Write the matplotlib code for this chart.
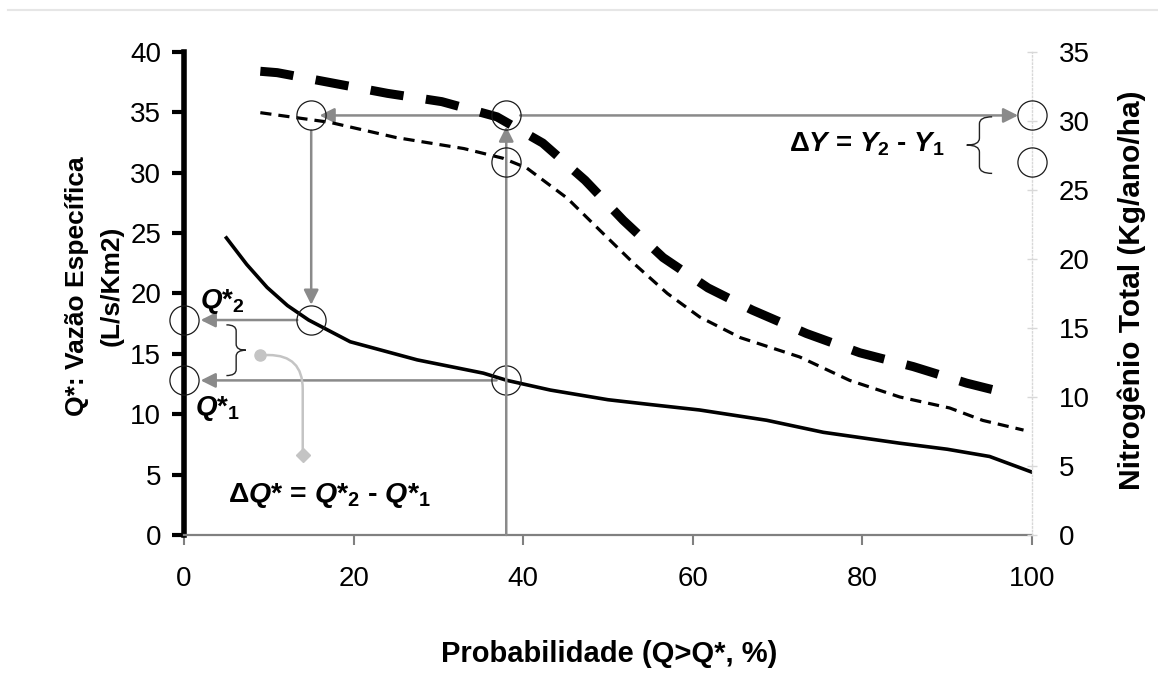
import matplotlib
matplotlib.use("Agg")
import matplotlib.pyplot as plt
from matplotlib.path import Path
from matplotlib.patches import PathPatch
from matplotlib.lines import Line2D

plt.rcParams["font.family"] = ["Liberation Sans", "DejaVu Sans"]
plt.rcParams["mathtext.fontset"] = "custom"
plt.rcParams["mathtext.rm"] = "Liberation Sans:bold"
plt.rcParams["mathtext.it"] = "Liberation Sans:italic:bold"
plt.rcParams["mathtext.bf"] = "Liberation Sans:bold"

# ---------------------------------------------
# Daten
# ---------------------------------------------
# Vazao especifica Q* (eixo esquerdo)
prob_q = [5, 7.4, 9.8, 12.2, 14.7, 19.6, 27.5, 35.3, 38.1, 43.2, 50, 55,
          60.8, 68.7, 75.4, 84.4, 90, 95, 100]
vazao_q = [24.6, 22.4, 20.5, 19.0, 17.8, 16.0, 14.5, 13.4, 12.8, 12.0, 11.2, 10.8,
           10.35, 9.5, 8.5, 7.6, 7.1, 6.5, 5.2]

# Nitrogenio total, cenario 2 (tracejado grosso, eixo direito)
prob_n2 = [9, 11, 17.5, 24, 30.4, 36.9, 42.3, 47.3, 51.8, 56.5, 61.8, 67,
           73.4, 79.7, 86, 92.3, 97.5]
nitro_n2 = [33.6, 33.5, 32.75, 32.0, 31.4, 30.3, 28.4, 25.7, 22.8, 20.1, 17.9, 16.3,
            14.6, 13.2, 12.2, 11.0, 10.2]

# Nitrogenio total, cenario 1 (tracejado fino, eixo direito)
prob_n1 = [9, 17.2, 25, 33, 37.6, 40.4, 45.2, 49, 53, 57, 60.8, 65.6,
           72.6, 78.5, 84.4, 90.3, 94.2, 99]
nitro_n1 = [30.6, 29.9, 28.8, 28.0, 27.3, 26.6, 24.4, 22.1, 19.7, 17.5, 15.8, 14.3,
            12.9, 11.2, 10.0, 9.2, 8.3, 7.6]

# pontos da leitura grafica
p1, p2 = 38, 15          # probabilidades
q1, q2 = 12.8, 17.8      # Q*1, Q*2
y1, y2 = 27.0, 30.4      # Y1, Y2

x_ticks = [0, 20, 40, 60, 80, 100]
yl_ticks = [0, 5, 10, 15, 20, 25, 30, 35, 40]
yr_ticks = [0, 5, 10, 15, 20, 25, 30, 35]

GRAY = "#8a8a8a"
LIGHT = "#c4c4c4"

# ---------------------------------------------
# Figur
# ---------------------------------------------
fig = plt.figure(figsize=(11.58, 6.73), dpi=100)
ax = fig.add_axes([0.1589, 0.2051, 0.7323, 0.7177])
ax2 = ax.twinx()

fig.add_artist(Line2D([0.007, 1.0], [0.985, 0.985], color="#e6e6e6", lw=1.5))

ax.plot(prob_q, vazao_q, color="black", lw=2.6, zorder=4)
ax2.plot(prob_n2, nitro_n2, color="black", lw=6.5, dashes=(3.7, 2.5),
         solid_capstyle="butt", dash_capstyle="butt", zorder=4)
ax2.plot(prob_n1, nitro_n1, color="black", lw=2.3, dashes=(3.5, 2.2),
         dash_capstyle="butt", zorder=4)

ax.set_xlim(0, 100)
ax.set_ylim(0, 40)
ax2.set_ylim(0, 35)
ax.set_xticks(x_ticks)
ax.set_yticks(yl_ticks)
ax2.set_yticks(yr_ticks)

for s in ["top", "right"]:
    ax.spines[s].set_visible(False)
ax.spines["left"].set_linewidth(4.0)
ax.spines["bottom"].set_color("#808080")
ax.spines["bottom"].set_linewidth(1.6)
for s in ["top", "left", "bottom"]:
    ax2.spines[s].set_visible(False)
ax2.spines["right"].set_color("#d8d8d8")
ax2.spines["right"].set_linestyle(":")
ax2.spines["right"].set_linewidth(1.0)

ax.tick_params(axis="y", direction="out", length=8.5, width=3, color="black",
               labelsize=20, pad=8)
ax.tick_params(axis="x", direction="out", length=7, width=1.5, color="#808080",
               labelsize=20, pad=15)
ax2.tick_params(axis="y", direction="inout", length=7, width=1, color="#d8d8d8",
                labelsize=20, pad=16)

ax.text(-0.106, 0.516, "Q*: Vazão Específica\n(L/s/Km2)", transform=ax.transAxes,
        rotation=90, ha="center", va="center", ma="center", fontsize=19,
        fontweight="bold", linespacing=1.55)
ax.text(1.118, 0.507, "Nitrogênio Total (Kg/ano/ha)", transform=ax.transAxes,
        rotation=90, ha="center", va="center", fontsize=21.5, fontweight="bold")
ax.set_xlabel("Probabilidade (Q>Q*, %)", fontsize=21, fontweight="bold")
ax.xaxis.set_label_coords(0.501, -0.218)

# ---------------------------------------------
# Pfeile
# ---------------------------------------------
def arrow(axis, start, end, sa, sb, tc=None):
    axis.annotate("", xy=end, xytext=start,
                  textcoords=tc if tc is not None else "data",
                  arrowprops=dict(arrowstyle="-|>", color=GRAY, lw=1.8,
                                  mutation_scale=22, shrinkA=sa, shrinkB=sb),
                  annotation_clip=False, zorder=1)

arrow(ax2, (p1, y2), (100, y2), 10, 10)
arrow(ax2, (p1, y2), (p2, y2), 6, 6)
arrow(ax2, (p1, 0), (p1, y2), 0, 8)
ax.annotate("", xy=(p2, q2), xytext=(p2, y2), textcoords=ax2.transData,
            arrowprops=dict(arrowstyle="-|>", color=GRAY, lw=1.8, mutation_scale=22,
                            shrinkA=11, shrinkB=11),
            annotation_clip=False, zorder=1)
arrow(ax, (p2, q2), (0, q2), 10, 12)
arrow(ax, (p1, q1), (0, q1), 7, 12)

# Kreise
circ = dict(marker="o", ms=21, mfc="none", mec="#1a1a1a", mew=0.9, ls="none",
            clip_on=False, zorder=5)
ax.plot([p2, p1, 0, 0], [q2, q1, q2, q1], **circ)
ax2.plot([p1, p1, p2, 100, 100], [y2, y1, y2, y2, y1], **circ)

# ---------------------------------------------
# Klammern
# ---------------------------------------------
def brace(axis, xb, ya, yb, w, r):
    xm = xb + w * 0.5
    xt = xb + w
    ym = (ya + yb) / 2
    verts = [(xb, ya), (xm, ya), (xm, ya - r), (xm, ym + r), (xm, ym), (xt, ym),
             (xt, ym), (xm, ym), (xm, ym - r), (xm, yb + r), (xm, yb), (xb, yb)]
    codes = [Path.MOVETO, Path.CURVE3, Path.CURVE3, Path.LINETO, Path.CURVE3, Path.CURVE3,
             Path.MOVETO, Path.CURVE3, Path.CURVE3, Path.LINETO, Path.CURVE3, Path.CURVE3]
    axis.add_patch(PathPatch(Path(verts, codes), fill=False, ec="#222222", lw=1.0,
                             clip_on=False))

brace(ax, 5.0, q2 - 0.4, q1 + 0.4, 2.3, 0.5)
brace(ax2, 95.3, y2 - 0.1, y1 - 0.8, -3.0, 0.5)

# Verbindung zu Delta Q*
ax.annotate("", xy=(14.0, 6.6), xytext=(9.0, 14.9),
            arrowprops=dict(arrowstyle="-", color=LIGHT, lw=1.8,
                            connectionstyle="angle,angleA=0,angleB=90,rad=34",
                            shrinkA=0, shrinkB=0))
ax.plot([9.0], [14.9], marker="o", ms=8, color=LIGHT, ls="none")
ax.plot([14.0], [6.6], marker="D", ms=7, color=LIGHT, ls="none")

# ---------------------------------------------
# Texte
# ---------------------------------------------
ax.text(1.9, 19.3, r"$Q{*}_{2}$", fontsize=20, ha="left", va="center")
ax.text(1.3, 10.5, r"$Q{*}_{1}$", fontsize=20, ha="left", va="center")
ax.text(17.2, 3.3, r"Δ$Q{*}$ = $Q{*}_{2}$ - $Q{*}_{1}$", fontsize=20.5,
        fontweight="bold", ha="center", va="center")
ax2.text(80.5, 28.3, r"Δ$Y$ = $Y_{2}$ - $Y_{1}$", fontsize=20,
         fontweight="bold", ha="center", va="center")

plt.savefig("out.png", dpi=100)
print("Plot gespeichert")
